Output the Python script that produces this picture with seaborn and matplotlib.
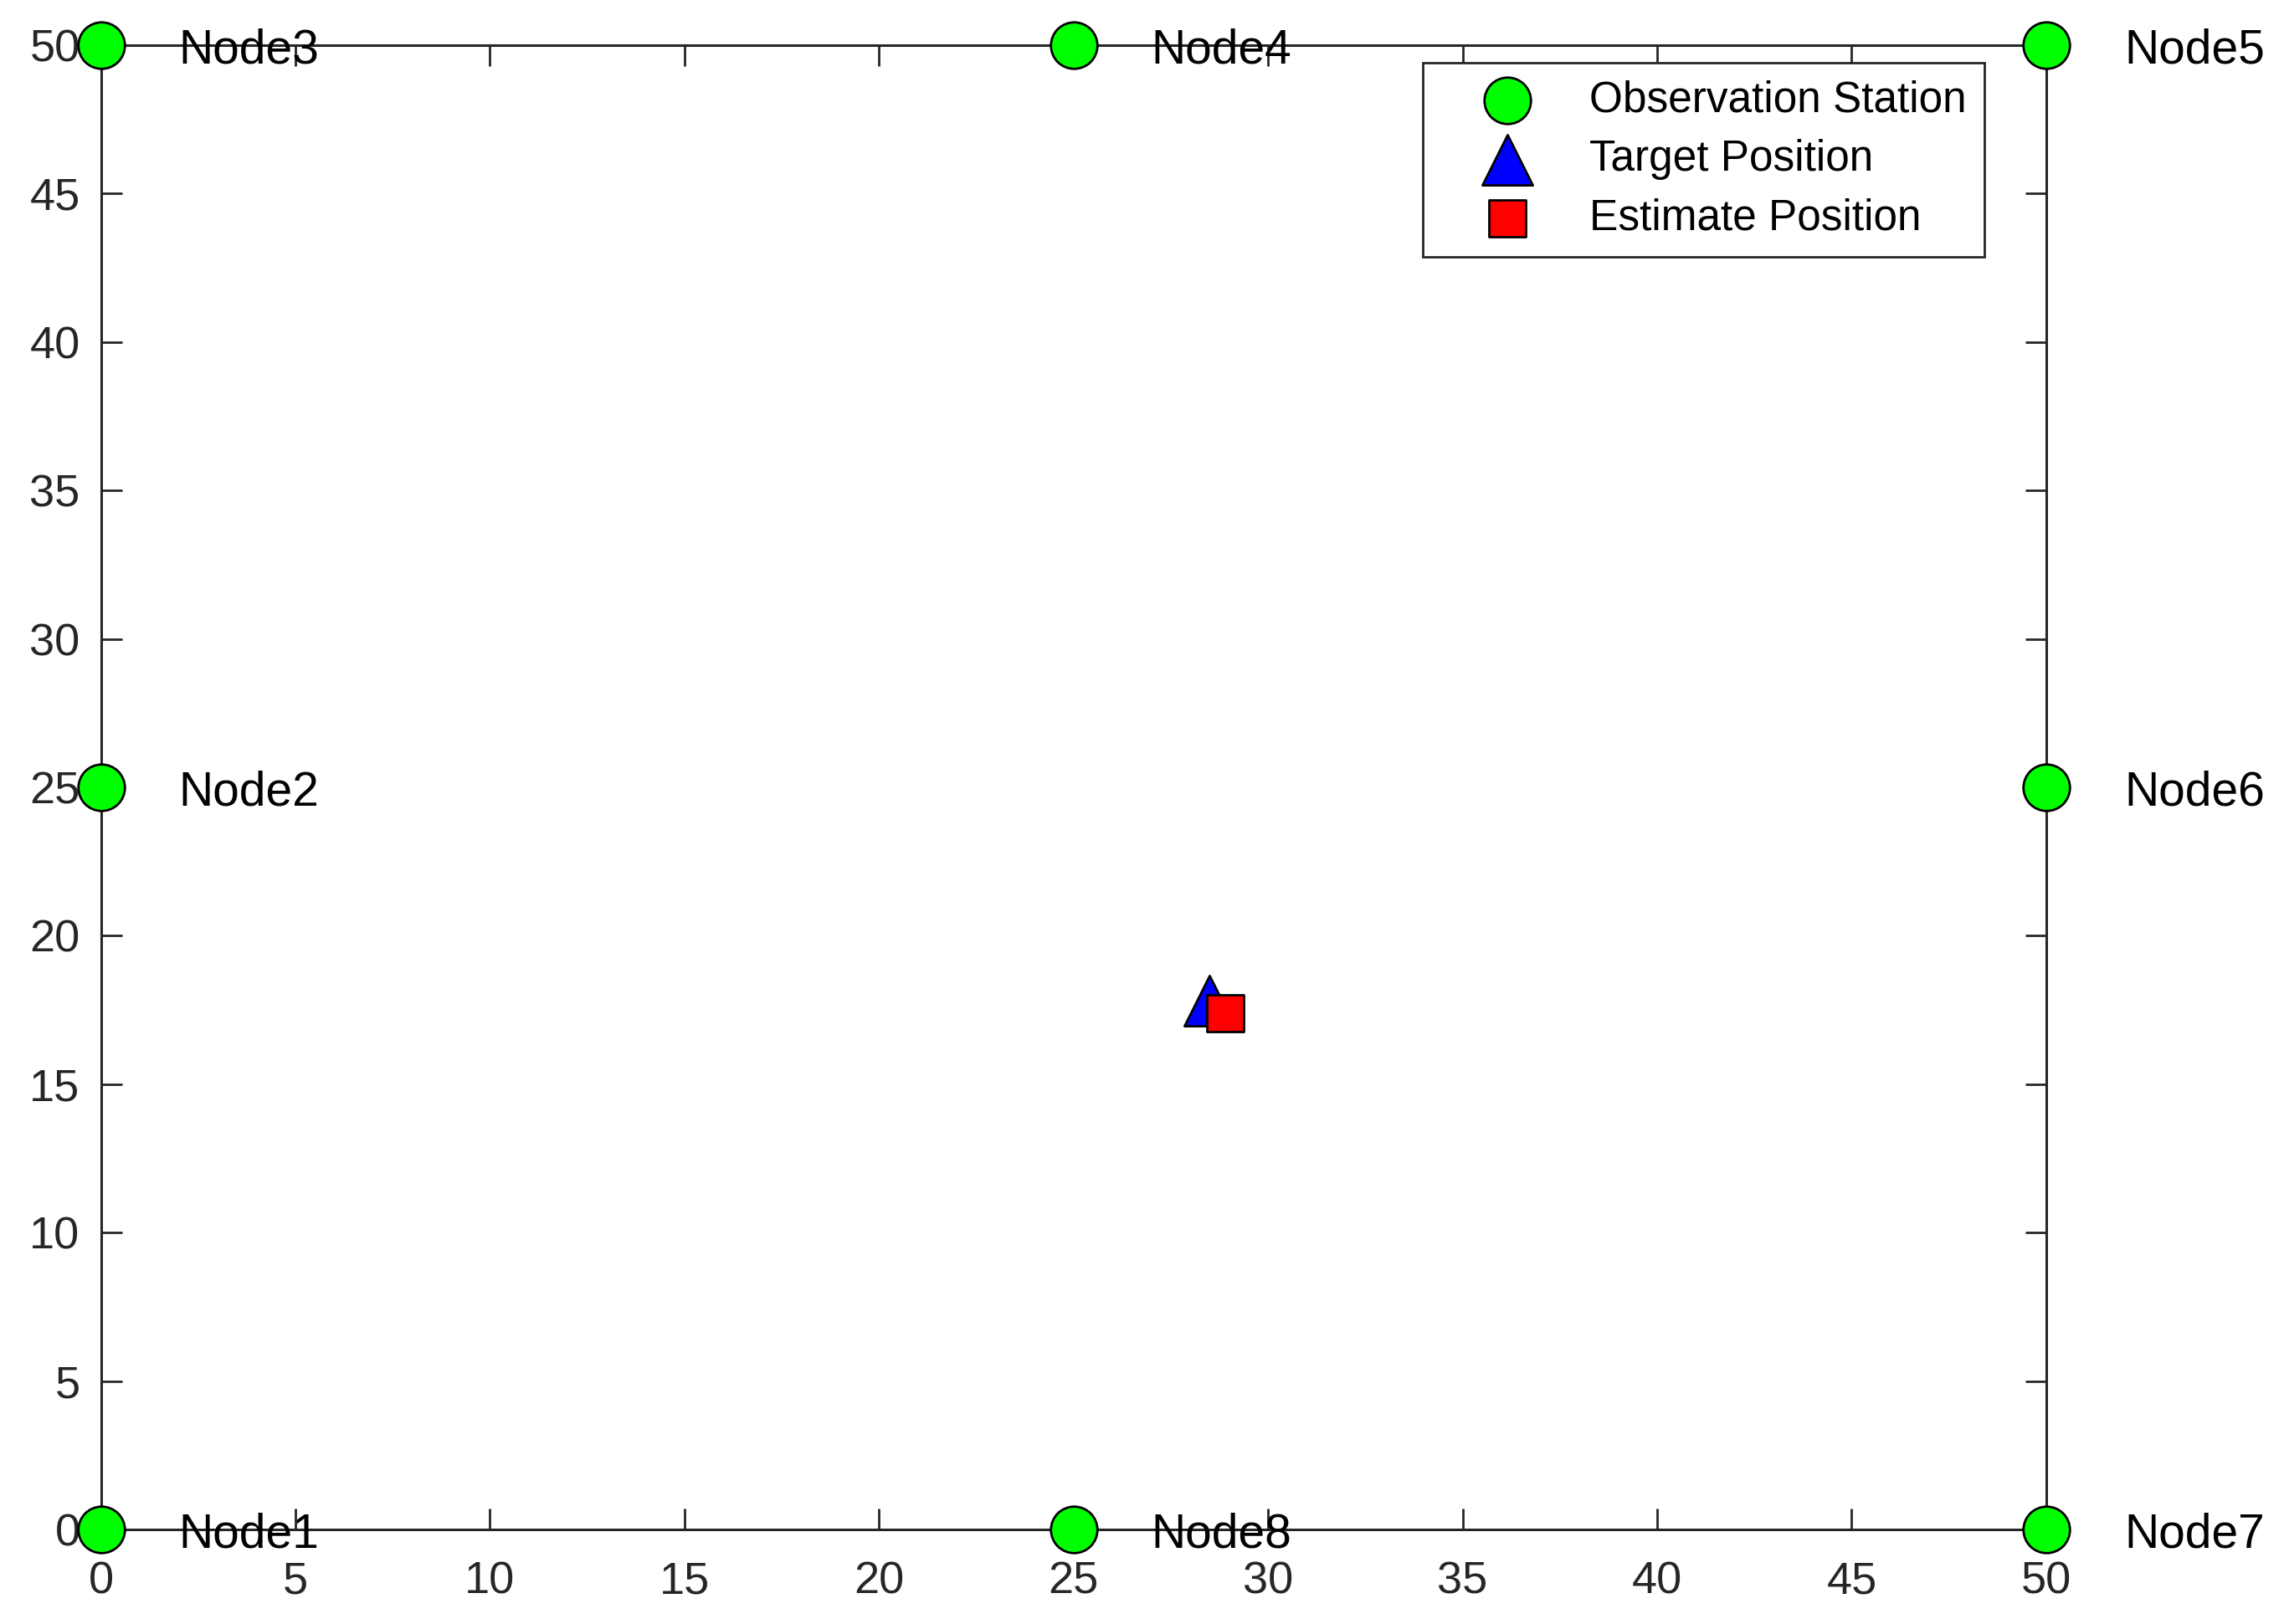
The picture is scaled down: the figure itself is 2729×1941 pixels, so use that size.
import numpy as np
import pandas as pd
import matplotlib
matplotlib.use('Agg')
import matplotlib.pyplot as plt
import seaborn as sns

# Observation stations (nodes) on the border of the 50 x 50 area
node_names = ['Node1', 'Node2', 'Node3', 'Node4', 'Node5', 'Node6', 'Node7', 'Node8']
node_x = [0, 0, 0, 25, 50, 50, 50, 25]
node_y = [0, 25, 50, 50, 50, 25, 0, 0]

# True target and the estimate
target_x = [28.5]
target_y = [17.8]
estimate_x = [28.9]
estimate_y = [17.4]

x_ticks = [0, 5, 10, 15, 20, 25, 30, 35, 40, 45, 50]
y_ticks = [0, 5, 10, 15, 20, 25, 30, 35, 40, 45, 50]

sns.set_style('ticks')
plt.rcParams['font.family'] = ['Liberation Sans', 'DejaVu Sans']

nodes = pd.DataFrame({'x': node_x, 'y': node_y, 'name': node_names})

fig = plt.figure(figsize=(13.645, 9.705), dpi=200)
ax = fig.add_axes([0.0442, 0.0582, 0.8517, 0.9140])

sns.scatterplot(data=nodes, x='x', y='y', ax=ax, s=400, color='#00ff00',
                edgecolor='black', linewidth=1.0, marker='o',
                label='Observation Station', clip_on=False, zorder=5)
sns.scatterplot(x=target_x, y=target_y, ax=ax, s=470, color='#0000ff',
                edgecolor='black', linewidth=1.0, marker='^',
                label='Target Position', clip_on=False, zorder=5)
sns.scatterplot(x=estimate_x, y=estimate_y, ax=ax, s=250, color='#ff0000',
                edgecolor='black', linewidth=1.0, marker='s',
                label='Estimate Position', clip_on=False, zorder=6)

# node names, 2 units to the right of each node
for i in range(len(nodes)):
    ax.annotate(nodes['name'][i], (nodes['x'][i] + 2, nodes['y'][i]),
                xytext=(0, -2.5), textcoords='offset points',
                fontsize=20.5, color='black', ha='left', va='center',
                zorder=7, annotation_clip=False)

ax.set_xlim(0, 50)
ax.set_ylim(0, 50)
ax.set_xticks(x_ticks)
ax.set_yticks(y_ticks)
ax.set_xlabel('')
ax.set_ylabel('')

ax.tick_params(direction='in', length=9, width=1.0, color='#262626',
               labelsize=19.5, labelcolor='#262626', top=True, right=True)
ax.tick_params(axis='x', pad=13.5)
ax.tick_params(axis='y', pad=9)
for sp in ax.spines.values():
    sp.set_visible(True)
    sp.set_linewidth(1.1)
    sp.set_color('#262626')

leg = ax.legend(loc='upper right', bbox_to_anchor=(0.968, 0.988),
                borderaxespad=0, fontsize=18.5, fancybox=False, framealpha=1,
                edgecolor='#262626', handlelength=3.1, handletextpad=0.37,
                labelspacing=0.42, borderpad=0.4)
leg.get_frame().set_linewidth(1.0)
for t in leg.get_texts():
    t.set_color('black')

fig.savefig('out.png', dpi=200, facecolor='white')
